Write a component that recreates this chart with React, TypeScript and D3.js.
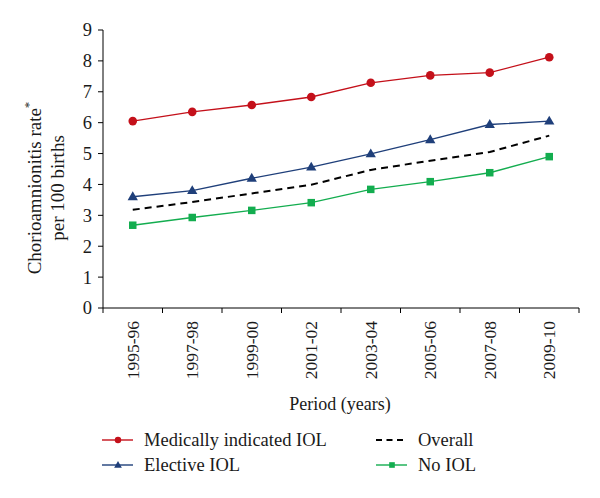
import React from "react";
import * as d3 from "d3";

const periods = ["1995-96", "1997-98", "1999-00", "2001-02", "2003-04", "2005-06", "2007-08", "2009-10"];
const medicallyIndicated = [6.05, 6.35, 6.57, 6.83, 7.29, 7.53, 7.62, 8.12];
const elective = [3.6, 3.8, 4.2, 4.56, 4.99, 5.45, 5.94, 6.05];
const overall = [3.18, 3.43, 3.71, 3.99, 4.47, 4.77, 5.05, 5.58];
const noIOL = [2.68, 2.93, 3.16, 3.41, 3.84, 4.09, 4.38, 4.9];
const yTicks = [0, 1, 2, 3, 4, 5, 6, 7, 8, 9];

const font = "'Liberation Serif', 'DejaVu Serif', serif";

export default function App() {
  const W = 600, H = 498;
  const left = 103, right = 579, top = 30, bottom = 308;
  const x = d3.scaleBand<string>().domain(periods).range([left, right]);
  const y = d3.scaleLinear().domain([0, 9]).range([bottom, top]);
  const cx = (p: string) => (x(p) as number) + x.bandwidth() / 2;
  const line = d3.line<[number, number]>().x(d => d[0]).y(d => d[1]);

  const series = [
    { name: "Medically indicated IOL", values: medicallyIndicated, color: "#c4101a", marker: "circle", dash: "" },
    { name: "Elective IOL", values: elective, color: "#1f3f7a", marker: "triangle", dash: "" },
    { name: "Overall", values: overall, color: "#000000", marker: "none", dash: "7,5" },
    { name: "No IOL", values: noIOL, color: "#13ad4f", marker: "square", dash: "" },
  ];

  const marker = (m: string, px: number, py: number, color: string, key: string, scale = 1) => {
    if (m === "circle") return <circle key={key} cx={px} cy={py} r={4.3 * scale} fill={color} />;
    if (m === "triangle") return <path key={key} d={d3.symbol().type(d3.symbolTriangle).size(46 * scale * scale)() as string} transform={`translate(${px},${py + 0.5})`} fill={color} />;
    if (m === "square") { const s = 7.5 * scale; return <rect key={key} x={px - s / 2} y={py - s / 2} width={s} height={s} fill={color} />; }
    return null;
  };

  const legend = [
    { s: series[0], lx: 102, ly: 440 },
    { s: series[2], lx: 376, ly: 440 },
    { s: series[1], lx: 102, ly: 465 },
    { s: series[3], lx: 376, ly: 465 },
  ];

  return (
    <svg width={W} height={H} style={{ display: "block", position: "absolute", left: 0, top: 0, background: "#fff" }} fontFamily={font}>
      <rect width={W} height={H} fill="#fff" />
      <line x1={left} x2={left} y1={top} y2={bottom} stroke="#000" strokeWidth={1} />
      <line x1={left} x2={right} y1={bottom} y2={bottom} stroke="#000" strokeWidth={1} />
      {yTicks.map(t => (
        <g key={"yt" + t}>
          <line x1={left - 5} x2={left} y1={y(t)} y2={y(t)} stroke="#000" />
          <text x={left - 11} y={y(t)} dy="0.35em" textAnchor="end" fontSize={18.5} fill="#1a1a1a">{t}</text>
        </g>
      ))}
      {[...periods.map(p => x(p) as number), right].map((v, i) => (
        <line key={"xt" + i} x1={v} x2={v} y1={bottom} y2={bottom + 5} stroke="#000" />
      ))}
      {periods.map(p => (
        <text key={"xl" + p} transform={`translate(${cx(p)},${bottom + 13}) rotate(-90)`} dy="0.35em" textAnchor="end" fontSize={17.5} fill="#1a1a1a">{p}</text>
      ))}
      <text x={(left + right) / 2 - 1} y={410} textAnchor="middle" fontSize={18} fill="#1a1a1a">Period (years)</text>
      <g transform="translate(41,188) rotate(-90)">
        <text x={0} y={0} textAnchor="middle" fontSize={19} fill="#1a1a1a">
          Chorioamnionitis rate<tspan dy={-8} fontSize={13}>*</tspan>
        </text>
        <text x={0} y={23} textAnchor="middle" fontSize={19} fill="#1a1a1a">per 100 births</text>
      </g>
      {series.map(s => (
        <g key={s.name}>
          <path d={line(s.values.map((v, i) => [cx(periods[i]), y(v)] as [number, number])) as string}
            fill="none" stroke={s.color} strokeWidth={s.dash ? 2 : 1.4} strokeDasharray={s.dash || undefined} />
          {s.values.map((v, i) => marker(s.marker, cx(periods[i]), y(v), s.color, s.name + i))}
        </g>
      ))}
      {legend.map(({ s, lx, ly }) => (
        <g key={"lg" + s.name}>
          <line x1={lx} x2={lx + 31} y1={ly} y2={ly} stroke={s.color} strokeWidth={s.dash ? 2 : 1.4} strokeDasharray={s.dash ? "6,4.5" : undefined} />
          {marker(s.marker, lx + 16, ly, s.color, "lm" + s.name, 0.75)}
          <text x={lx + 42} y={ly} dy="0.35em" fontSize={18.5} fill="#1a1a1a">{s.name}</text>
        </g>
      ))}
    </svg>
  );
}
